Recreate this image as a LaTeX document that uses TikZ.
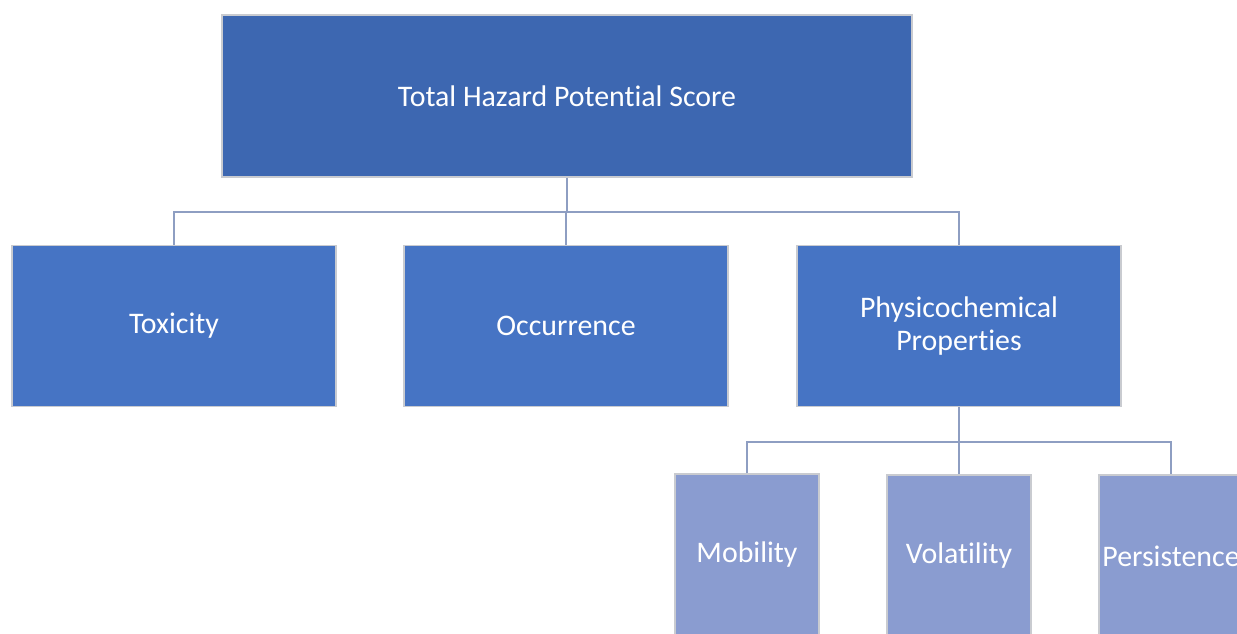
\documentclass[tikz,border=0pt]{standalone}
\usepackage{fontspec}
\setmainfont{Carlito}[RawFeature=-liga]
\definecolor{topblue}{HTML}{3D67B1}
\definecolor{midblue}{HTML}{4674C4}
\definecolor{lowblue}{HTML}{8A9CD0}
\definecolor{boxrim}{HTML}{C9CBD0}
\definecolor{linkgray}{HTML}{8E9EC2}

\begin{document}
\begin{tikzpicture}[x=0.02cm,y=-0.02cm,
  box/.style={draw=boxrim,line width=0.8pt,text=white,align=center,inner sep=0pt,
    font=\fontsize{17}{19}\selectfont},
  topbox/.style={box,fill=topblue,minimum width=13.8cm,minimum height=3.24cm},
  midbox/.style={box,fill=midblue,minimum width=6.48cm,minimum height=3.22cm},
  lowbox/.style={box,fill=lowblue,minimum width=2.88cm,minimum height=3.24cm},
  link/.style={draw=linkgray,line width=1pt}]
  \useasboundingbox (0,0) rectangle (1237,633);
  \clip (0,0) rectangle (1237,633);
  % levels
  \pgfmathsetmacro{\busA}{212};
  \pgfmathsetmacro{\busB}{442};
  %
  \node[topbox] (total) at (567,96) {Total Hazard Potential Score};
  \node[midbox] (tox) at (174,326) {Toxicity};
  \node[midbox] (occ) at (566,326) {Occurrence};
  \node[midbox] (phys) at (959,326) {Physicochemical\\Properties};
  \node[lowbox] (mob) at (747,555) {Mobility};
  \node[lowbox] (vol) at (959,556) {Volatility};
  \node[lowbox] (pers) at (1171,556) {Persistence};
  % first level links
  \draw[link] (total.south) -- (total.south |- 0,\busA);
  \draw[link] (tox.north) -- (tox.north |- 0,\busA) -- (phys.north |- 0,\busA) -- (phys.north);
  \draw[link] (occ.north) -- (occ.north |- 0,\busA);
  % second level links
  \draw[link] (phys.south) -- (vol.north);
  \draw[link] (mob.north) -- (mob.north |- 0,\busB) -- (pers.north |- 0,\busB) -- (pers.north);
\end{tikzpicture}
\end{document}
